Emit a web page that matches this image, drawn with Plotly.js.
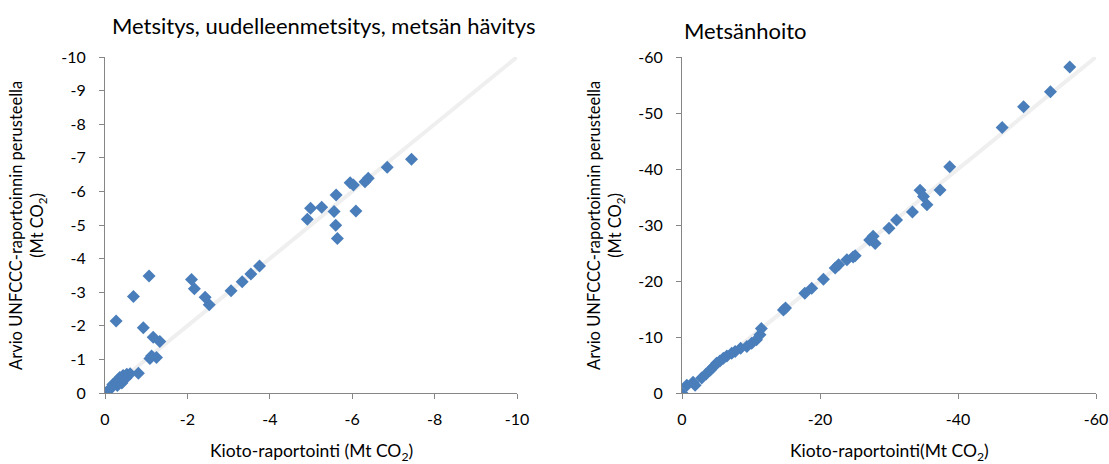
<!DOCTYPE html>
<html><head><meta charset="utf-8">
<script src="https://cdn.plot.ly/plotly-3.0.1.min.js"></script>
<style>html,body{margin:0;padding:0;background:#fff}#c{width:1109px;height:464px}</style>
</head><body><div id="c"></div>
<script>
// Left: Metsitys, uudelleenmetsitys, metsän hävitys
const afX = [0,-0.07,-0.15,-0.19,-0.27,-0.32,-0.36,-0.44,-0.51,-0.53,-0.61,-0.41,-0.30,-0.81,
  -0.27,-0.69,-1.07,-0.93,-1.17,-1.33,-1.13,-1.25,-1.09,
  -2.10,-2.17,-2.43,-2.53,-3.06,-3.33,-3.54,-3.75,
  -4.91,-4.99,-5.26,-5.56,-5.60,-5.64,-5.61,-6.09,-5.95,-6.03,-6.31,-6.39,-6.85,-7.44];
const afY = [0,-0.06,-0.15,-0.25,-0.32,-0.40,-0.46,-0.52,-0.45,-0.56,-0.57,-0.30,-0.22,-0.59,
  -2.14,-2.87,-3.48,-1.94,-1.66,-1.53,-1.10,-1.06,-1.03,
  -3.38,-3.10,-2.85,-2.63,-3.04,-3.31,-3.54,-3.78,
  -5.17,-5.50,-5.53,-5.40,-4.99,-4.60,-5.89,-5.42,-6.26,-6.19,-6.29,-6.39,-6.72,-6.96];
// Right: Metsänhoito
const fmX = [0,-0.7,-1.9,-1.6,-2.85,-3.5,-4.1,-4.5,-5.0,-5.5,-6.0,-6.5,-7.2,-7.7,-8.5,-9.4,-10.1,-10.8,-11.3,-11.5,
  -14.7,-15.0,-17.8,-18.8,-20.5,-22.2,-22.7,-23.9,-24.8,-25.1,-27.2,-27.7,-28.0,-30.0,-31.1,-33.4,
  -34.5,-35.0,-35.5,-37.4,-38.8,-46.4,-49.5,-53.4,-56.2];
const fmY = [0,-1.4,-1.4,-1.9,-2.7,-3.4,-4.1,-4.6,-5.3,-5.7,-6.2,-6.6,-7.1,-7.4,-8.0,-8.3,-8.9,-9.5,-10.4,-11.5,
  -14.8,-15.2,-17.8,-18.7,-20.3,-22.3,-22.9,-23.8,-24.3,-24.5,-27.3,-28.0,-26.7,-29.4,-30.9,-32.3,
  -36.2,-35.1,-33.6,-36.25,-40.4,-47.4,-51.1,-53.8,-58.2];
const lineL = [0,-10];
const lineR = [0,-60];
const ticksL = [0,-1,-2,-3,-4,-5,-6,-7,-8,-9,-10];
const ticksLText = ['0','-1','-2','-3','-4','-5','-6','-7','-8','-9','-10'];
const ticksLx = [0,-2,-4,-6,-8,-10];
const ticksLxText = ['0','-2','-4','-6','-8','-10'];
const ticksRy = [0,-10,-20,-30,-40,-50,-60];
const ticksRyText = ['0','-10','-20','-30','-40','-50','-60'];
const ticksRx = [0,-20,-40,-60];
const ticksRxText = ['0','-20','-40','-60'];
const titleL = 'Metsitys, uudelleenmetsitys, metsän hävitys';
const titleR = 'Metsänhoito';
const yTitle = 'Arvio UNFCCC-raportoinnin perusteella<br>(Mt CO<sub>2</sub>)';
const xTitleL = 'Kioto-raportointi (Mt CO<sub>2</sub>)';
const xTitleR = 'Kioto-raportointi(Mt CO<sub>2</sub>)';

const FONT = 'Lato, "Open Sans", sans-serif';
const BLUE = '#4a7ebb';
const mk = {symbol:'diamond', size:10, color:BLUE};
const lineStyle = {color:'#efefef', width:4};

const traces = [
  {x:lineL, y:lineL, mode:'lines', line:lineStyle, xaxis:'x', yaxis:'y', hoverinfo:'skip'},
  {x:afX, y:afY, mode:'markers', marker:mk, xaxis:'x', yaxis:'y'},
  {x:lineR, y:lineR, mode:'lines', line:lineStyle, xaxis:'x2', yaxis:'y2', hoverinfo:'skip'},
  {x:fmX, y:fmY, mode:'markers', marker:mk, xaxis:'x2', yaxis:'y2'}
];
const W = 1109, H = 464;
const ax = (o) => Object.assign({
  showgrid:false, zeroline:false, showline:true, linecolor:'#868686', linewidth:1,
  ticks:'outside', ticklen:5, tickcolor:'#868686', tickmode:'array',
  tickfont:{family:FONT, size:16, color:'#000'}, fixedrange:true
}, o);
const yd = [1-393/H, 1-57/H];
const layout = {
  width:W, height:H, margin:{l:0,r:0,t:0,b:0}, showlegend:false,
  paper_bgcolor:'#fff', plot_bgcolor:'#fff', font:{family:FONT, color:'#000'},
  xaxis: ax({domain:[105/W, 517/W], range:[0,-10], tickvals:ticksLx, ticktext:ticksLxText, anchor:'y', ticklabelstandoff:7}),
  yaxis: ax({domain:yd, range:[0,-10], tickvals:ticksL, ticktext:ticksLText, anchor:'x', ticklabelstandoff:10}),
  xaxis2: ax({domain:[682/W, 1096/W], range:[0,-60], tickvals:ticksRx, ticktext:ticksRxText, anchor:'y2', ticklabelstandoff:7}),
  yaxis2: ax({domain:yd, range:[0,-60], tickvals:ticksRy, ticktext:ticksRyText, anchor:'x2', ticklabelstandoff:10}),
  annotations: [
    {text:titleL, x:323/W, y:1-25/H, xref:'paper', yref:'paper', xanchor:'center', yanchor:'middle', showarrow:false, font:{family:FONT, size:22}},
    {text:titleR, x:682/W, y:1-31/H, xref:'paper', yref:'paper', xanchor:'left', yanchor:'middle', showarrow:false, font:{family:FONT, size:22}},
    {text:yTitle, x:28/W, y:1-226/H, xref:'paper', yref:'paper', xanchor:'center', yanchor:'middle', textangle:-90, showarrow:false, font:{family:FONT, size:16.5}},
    {text:yTitle, x:606/W, y:1-226/H, xref:'paper', yref:'paper', xanchor:'center', yanchor:'middle', textangle:-90, showarrow:false, font:{family:FONT, size:16.5}},
    {text:xTitleL, x:311/W, y:1-452/H, xref:'paper', yref:'paper', xanchor:'center', yanchor:'middle', showarrow:false, font:{family:FONT, size:17.5}},
    {text:xTitleR, x:889/W, y:1-452/H, xref:'paper', yref:'paper', xanchor:'center', yanchor:'middle', showarrow:false, font:{family:FONT, size:17.5}}
  ]
};
Plotly.newPlot('c', traces, layout, {displayModeBar:false, staticPlot:true});
</script></body></html>
